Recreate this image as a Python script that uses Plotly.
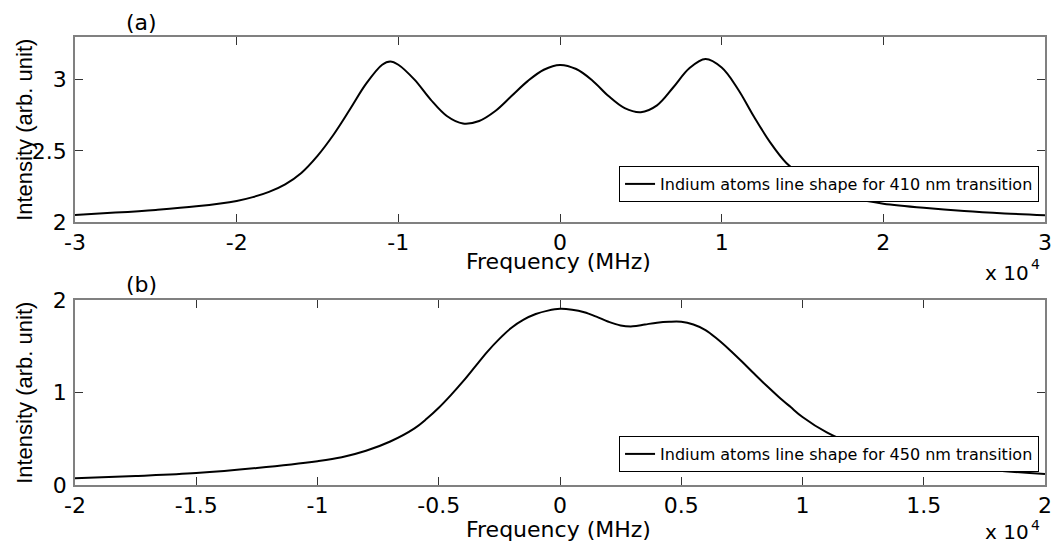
import plotly.graph_objects as go
from plotly.subplots import make_subplots

# ---- data (frequency in MHz, intensity in arb. unit) ----
freq_a = [-30000, -27500, -25000, -22500, -20000, -19000, -18000, -17000, -16000, -15000,
          -14000, -13000, -12000, -11000, -10500, -10000, -9000, -8000, -7000, -6000,
          -5000, -4000, -3000, -2000, -1000, 0, 1000, 2000, 3000, 4000,
          5000, 6000, 7000, 8000, 9000, 10000, 11000, 12000, 13000, 14000,
          15000, 16000, 17000, 18000, 19000, 20000, 22500, 25000, 27500, 30000]
intensity_a = [2.050, 2.066, 2.085, 2.110, 2.148, 2.175, 2.212, 2.265, 2.345, 2.465,
               2.615, 2.790, 2.970, 3.105, 3.128, 3.105, 3.000, 2.860, 2.745, 2.692,
               2.710, 2.780, 2.885, 2.990, 3.070, 3.104, 3.075, 2.995, 2.885, 2.800,
               2.772, 2.820, 2.945, 3.080, 3.145, 3.085, 2.935, 2.740, 2.560, 2.415,
               2.322, 2.258, 2.207, 2.172, 2.147, 2.129, 2.100, 2.077, 2.060, 2.047]

freq_b = [-20000, -17500, -15000, -12500, -10000, -9000, -8000, -7000, -6000, -5500,
          -5000, -4500, -4000, -3500, -3000, -2500, -2000, -1500, -1000, -500,
          0, 500, 1000, 1500, 2000, 2500, 3000, 3500, 4000, 4500,
          5000, 5500, 6000, 6500, 7000, 7500, 8000, 8500, 9000, 9500,
          10000, 11000, 12000, 13000, 14000, 15000, 17500, 20000]
intensity_b = [0.072, 0.098, 0.130, 0.185, 0.258, 0.300, 0.370, 0.470, 0.612, 0.715,
               0.835, 0.972, 1.120, 1.280, 1.440, 1.580, 1.700, 1.787, 1.848, 1.885,
               1.905, 1.895, 1.868, 1.820, 1.765, 1.725, 1.715, 1.735, 1.755, 1.765,
               1.765, 1.735, 1.675, 1.575, 1.460, 1.335, 1.205, 1.078, 0.958, 0.845,
               0.735, 0.568, 0.450, 0.360, 0.290, 0.240, 0.168, 0.119]

xticks_a = [-30000, -20000, -10000, 0, 10000, 20000, 30000]
xticklabels_a = ["-3", "-2", "-1", "0", "1", "2", "3"]
yticks_a = [2, 2.5, 3]
yticklabels_a = ["2", "2.5", "3"]

xticks_b = [-20000, -15000, -10000, -5000, 0, 5000, 10000, 15000, 20000]
xticklabels_b = ["-2", "-1.5", "-1", "-0.5", "0", "0.5", "1", "1.5", "2"]
yticks_b = [0, 1, 2]
yticklabels_b = ["0", "1", "2"]

name_a = "Indium atoms line shape for 410 nm transition"
name_b = "Indium atoms line shape for 450 nm transition"

# ---- layout geometry (pixels) ----
W, H = 1060, 544
L, R, T, B = 75, 1052, 37, 485
PW, PH = R - L, B - T


def px(x):
    return (x - L) / PW


def py(y):
    return (B - y) / PH


fig = make_subplots(rows=2, cols=1, vertical_spacing=0)

fig.add_trace(go.Scatter(x=freq_a, y=intensity_a, mode="lines", name=name_a,
                         line=dict(color="black", width=2, shape="spline", smoothing=1.0),
                         legend="legend"), row=1, col=1)
fig.add_trace(go.Scatter(x=freq_b, y=intensity_b, mode="lines", name=name_b,
                         line=dict(color="black", width=2, shape="spline", smoothing=1.0),
                         legend="legend2"), row=2, col=1)

tickfont = dict(family="DejaVu Sans", size=22, color="black")
axis_common = dict(showline=True, linecolor="#808080", linewidth=1.5, mirror="ticks",
                   ticks="inside", ticklen=8, tickcolor="#333333", tickwidth=1,
                   showgrid=False, zeroline=False, tickfont=tickfont)

legend_common = dict(xanchor="right", yanchor="top", bgcolor="white",
                     bordercolor="black", borderwidth=1,
                     font=dict(family="DejaVu Sans", size=16, color="black"),
                     itemwidth=30, tracegroupgap=0)

fig.update_layout(
    width=W, height=H,
    margin=dict(l=L, r=W - R, t=T, b=H - B),
    paper_bgcolor="white", plot_bgcolor="white",
    showlegend=True,
    xaxis=dict(domain=[0, 1], range=[-30000, 30000], tickvals=xticks_a,
               ticktext=xticklabels_a, anchor="y", ticklabelstandoff=0, **axis_common),
    yaxis=dict(domain=[py(222), 1], range=[2, 3.3], tickvals=yticks_a,
               ticktext=yticklabels_a, anchor="x", ticklabelstandoff=2, **axis_common),
    xaxis2=dict(domain=[0, 1], range=[-20000, 20000], tickvals=xticks_b,
                ticktext=xticklabels_b, anchor="y2", ticklabelstandoff=0, **axis_common),
    yaxis2=dict(domain=[0, py(300)], range=[0, 2], tickvals=yticks_b,
                ticktext=yticklabels_b, anchor="x2", ticklabelstandoff=2, **axis_common),
    legend=dict(x=px(1046), y=py(166), **legend_common),
    legend2=dict(x=px(1046), y=py(436), **legend_common),
)

txt = dict(family="DejaVu Sans", size=22, color="black")
ann = []
# panel labels
ann.append(dict(text="(a)", x=px(142), y=py(22), font=txt))
ann.append(dict(text="(b)", x=px(142), y=py(284), font=txt))
# x titles
ann.append(dict(text="Frequency (MHz)", x=px(562), y=py(261),
                font=dict(family="DejaVu Sans", size=22, color="black")))
ann.append(dict(text="Frequency (MHz)", x=px(562), y=py(529),
                font=dict(family="DejaVu Sans", size=22, color="black")))
# y titles
for yc in [(37 + 222) / 2, (300 + 485) / 2]:
    ann.append(dict(text="Intensity (arb. unit)", x=px(24), y=py(yc), textangle=-90,
                    font=dict(family="Liberation Sans", size=22, color="black")))
# exponent labels
for yc, ys in [(273, 264), (532, 525)]:
    ann.append(dict(text="x 10", x=px(990), y=py(yc), xanchor="left",
                    font=dict(family="DejaVu Sans", size=20, color="black")))
    ann.append(dict(text="4", x=px(1036), y=py(ys), xanchor="left",
                    font=dict(family="DejaVu Sans", size=14, color="black")))

for a in ann:
    a.setdefault("xanchor", "center")
    a.update(xref="paper", yref="paper", yanchor="middle", showarrow=False)
    fig.add_annotation(**a)

fig.write_html("out.html")
